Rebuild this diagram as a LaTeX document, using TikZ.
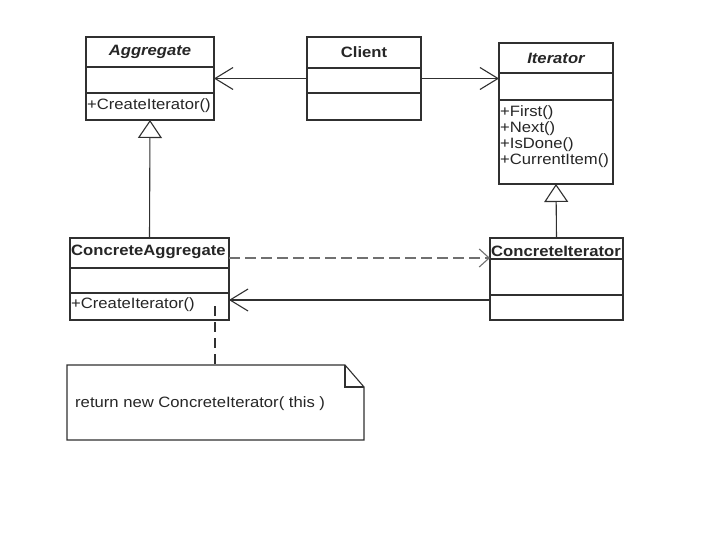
\documentclass[tikz,border=0pt]{standalone}
\usepackage{fontspec}
\setmainfont{Liberation Sans}
\usepackage{graphicx}
\usetikzlibrary{arrows.meta}
\newcommand{\sx}[1]{\scalebox{1.11}[1]{#1}}
\definecolor{linec}{HTML}{303030}
\definecolor{dashc}{HTML}{707070}
\begin{document}
\begin{tikzpicture}[x=1pt,y=-1pt,
  cls/.style={draw=linec, line width=1.1pt, anchor=north west, inner sep=0pt, outer sep=0pt},
  sep/.style={draw=linec, line width=1.1pt},
  txt/.style={font=\fontsize{15}{16}\selectfont, inner sep=0pt, text=black!85},
  bold/.style={txt, font=\fontsize{15}{16}\selectfont\bfseries},
  bolditalic/.style={txt, font=\fontsize{15}{16}\selectfont\bfseries\itshape},
  assoc/.style={draw=linec, line width=1.1pt, -{Straight Barb[length=18pt,width=22pt]}},
  inherit/.style={draw=linec, line width=1.1pt, -{Triangle[open,length=18pt,width=24pt]}},
  depend/.style={draw=dashc, line width=1.6pt, dash pattern=on 11pt off 5pt, -{Straight Barb[length=10pt,width=18pt,line width=1.1pt]}},
  notelink/.style={draw=linec, line width=1.1pt, dash pattern=on 10pt off 6pt},
]
\useasboundingbox[fill=white] (0,0) rectangle (714,540);

% Aggregate
\node[cls, minimum width=128pt, minimum height=83pt] (agg) at (86,37) {};
\draw[sep] ([yshift=-30pt]agg.north west) -- ([yshift=-30pt]agg.north east);
\draw[sep] ([yshift=-56pt]agg.north west) -- ([yshift=-56pt]agg.north east);
\node[bolditalic] (aggname) at ([yshift=-15pt]agg.north) {\sx{Aggregate}};
\node[txt, anchor=west] (aggop) at ([xshift=1pt,yshift=-69pt]agg.north west) {\sx{+CreateIterator()}};

% Client
\node[cls, minimum width=114pt, minimum height=83pt] (client) at (307,37) {};
\draw[sep] ([yshift=-31pt]client.north west) -- ([yshift=-31pt]client.north east);
\draw[sep] ([yshift=-56pt]client.north west) -- ([yshift=-56pt]client.north east);
\node[bold] (clientname) at ([yshift=-15pt]client.north) {\sx{Client}};

% Iterator
\node[cls, minimum width=114pt, minimum height=141pt] (iter) at (499,43) {};
\draw[sep] ([yshift=-30pt]iter.north west) -- ([yshift=-30pt]iter.north east);
\draw[sep] ([yshift=-57pt]iter.north west) -- ([yshift=-57pt]iter.north east);
\node[bolditalic] (itername) at ([yshift=-15pt]iter.north) {\sx{Iterator}};
\node[txt, anchor=north west, align=left] (iterops) at ([xshift=1pt,yshift=-62pt]iter.north west)
  {\sx{+First()}\\\sx{+Next()}\\\sx{+IsDone()}\\\sx{+CurrentItem()}};

% ConcreteAggregate
\node[cls, minimum width=159pt, minimum height=82pt] (cagg) at (70,238) {};
\draw[sep] ([yshift=-30pt]cagg.north west) -- ([yshift=-30pt]cagg.north east);
\draw[sep] ([yshift=-55pt]cagg.north west) -- ([yshift=-55pt]cagg.north east);
\node[bold, anchor=west] (caggname) at ([xshift=1pt,yshift=-14pt]cagg.north west) {\sx{ConcreteAggregate}};
\node[txt, anchor=west] (caggop) at ([xshift=1pt,yshift=-67pt]cagg.north west) {\sx{+CreateIterator()}};

% ConcreteIterator
\node[cls, minimum width=133pt, minimum height=82pt] (citer) at (490,238) {};
\draw[sep] ([yshift=-21pt]citer.north west) -- ([yshift=-21pt]citer.north east);
\draw[sep] ([yshift=-57pt]citer.north west) -- ([yshift=-57pt]citer.north east);
\node[bold, anchor=west] (citername) at ([xshift=1pt,yshift=-13pt]citer.north west) {\sx{ConcreteIterator}};

% Note
\node[anchor=north west, minimum width=297pt, minimum height=75pt, inner sep=0pt, outer sep=0pt] (note) at (67,365) {};
\draw[sep] (note.north west) -- ([xshift=-19pt]note.north east) -- ([yshift=-22pt]note.north east)
  -- (note.south east) -- (note.south west) -- cycle;
\draw[sep] ([xshift=-19pt]note.north east) -- ([xshift=-19pt,yshift=-22pt]note.north east) -- ([yshift=-22pt]note.north east);
\node[txt, anchor=west] (notetext) at (75,404) {\sx{return new ConcreteIterator( this )}};

% Connectors
\draw[assoc] (client.west) -- (agg.east);
\draw[assoc] (client.east) -- (client.east -| iter.west);
\draw[inherit] (cagg.north) -- (agg.south);
\draw[inherit] (citer.north) -- (iter.south);
\coordinate (depstart) at ([yshift=-20pt]cagg.north east);
\draw[depend] (depstart) -- (depstart -| citer.west);
\coordinate (navstart) at ([yshift=-62pt]citer.north west);
\draw[assoc] (navstart) -- (navstart -| cagg.east);
\coordinate (notelinkstart) at (215,306);
\draw[notelink] (notelinkstart) -- (notelinkstart |- note.north);
\end{tikzpicture}
\end{document}
